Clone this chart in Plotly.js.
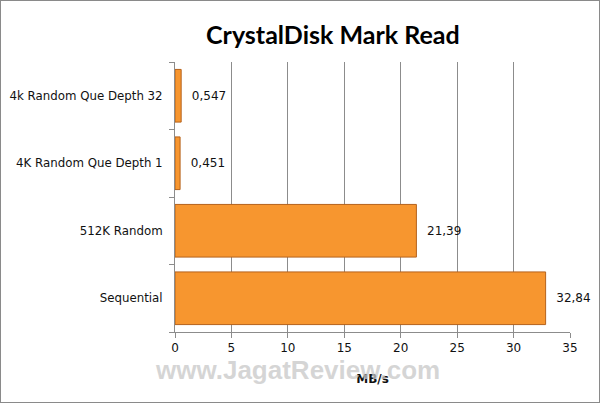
<!DOCTYPE html>
<html>
<head>
<meta charset="utf-8">
<script src="https://cdn.plot.ly/plotly-3.0.1.min.js"></script>
<style>
  html, body { margin: 0; padding: 0; background: #fff; }
  #chart { width: 600px; height: 403px; box-sizing: border-box; border: 1px solid #8a8a8a; }
</style>
</head>
<body>
<div id="chart"></div>
<script>
// bottom to top, as the chart reads
const tests = ['Sequential', '512K Random', '4K Random Que Depth 1', '4k Random Que Depth 32'];
const readSpeeds = [32.84, 21.39, 0.451, 0.547];
const xTicks = [0, 5, 10, 15, 20, 25, 30, 35];

// comma decimals, a little gap after the bar end
const labels = readSpeeds.map(v => '\u00a0\u00a0' + String(v).replace('.', ','));

const bars = {
  type: 'bar',
  orientation: 'h',
  x: readSpeeds,
  y: tests,
  text: labels,
  textposition: 'outside',
  cliponaxis: false,
  textfont: { family: 'DejaVu Sans', size: 12, color: '#111' },
  marker: {
    color: '#F7962F',
    line: { color: '#B5621C', width: 1 }
  },
  hoverinfo: 'x+y'
};

const layout = {
  width: 598,
  height: 401,
  margin: { l: 174, r: 29, t: 61, b: 70 },
  paper_bgcolor: '#fff',
  plot_bgcolor: '#fff',
  bargap: 0.22,
  showlegend: false,
  title: {
    text: '<b>CrystalDisk Mark Read</b>',
    font: { family: 'Lato', size: 25, color: '#000' },
    x: 0.555,
    xanchor: 'center',
    y: 0.915,
    yanchor: 'middle'
  },
  xaxis: {
    range: [0, 35],
    tickvals: xTicks,
    ticktext: xTicks.map(String),
    showgrid: true,
    gridcolor: '#8c8c8c',
    gridwidth: 1,
    zeroline: false,
    showline: true,
    linecolor: '#8c8c8c',
    ticks: 'outside',
    ticklen: 5,
    tickcolor: '#8c8c8c',
    tickfont: { family: 'DejaVu Sans', size: 12, color: '#111' },
    title: {
      text: '<b>MB/s</b>',
      font: { family: 'DejaVu Sans', size: 12, color: '#111' },
      standoff: 20
    },
    fixedrange: true
  },
  yaxis: {
    type: 'category',
    categoryorder: 'array',
    categoryarray: tests,
    showline: true,
    linecolor: '#8c8c8c',
    ticks: 'outside',
    tickson: 'boundaries',
    ticklen: 5,
    tickcolor: '#8c8c8c',
    showgrid: false,
    tickfont: { family: 'DejaVu Sans', size: 11.8, color: '#111' },
    ticklabelstandoff: 9,
    fixedrange: true
  },
  annotations: [{
    text: '<b>www.JagatReview.com</b>',
    xref: 'paper', yref: 'paper',
    x: 0.31, y: -0.14,
    xanchor: 'center', yanchor: 'middle',
    showarrow: false,
    font: { family: 'Liberation Sans', size: 26, color: 'rgba(200,200,200,0.75)' }
  }]
};

Plotly.newPlot('chart', [bars], layout, { displayModeBar: false, responsive: false });
</script>
</body>
</html>
